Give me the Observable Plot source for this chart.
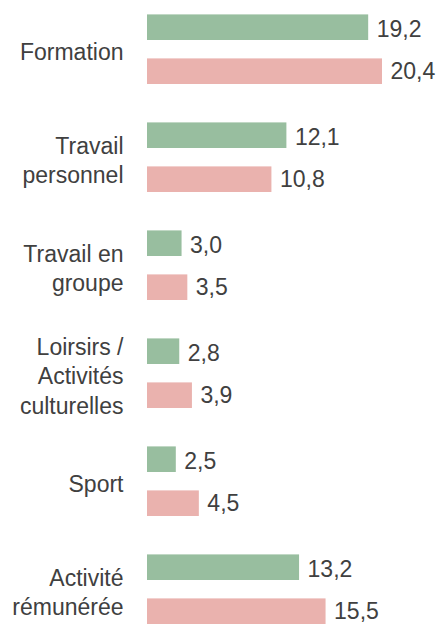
<!DOCTYPE html>
<html>
<head>
<meta charset="utf-8">
<script src="https://cdn.jsdelivr.net/npm/d3@7"></script>
<script src="https://cdn.jsdelivr.net/npm/@observablehq/plot@0.6"></script>
<style>
  html, body { margin: 0; padding: 0; background: #fff; overflow: hidden; }
  #chart svg { display: block; }
</style>
</head>
<body>
<div id="chart"></div>
<script>
const categories = [
  "Formation",
  "Travail\npersonnel",
  "Travail en\ngroupe",
  "Loirsirs /\nActivités\nculturelles",
  "Sport",
  "Activité\nrémunérée"
];
const serieVert = [19.2, 12.1, 3.0, 2.8, 2.5, 13.2];
const serieRose = [20.4, 10.8, 3.5, 3.9, 4.5, 15.5];

const green = categories.map((c, i) => ({cat: c, value: serieVert[i]}));
const pink = categories.map((c, i) => ({cat: c, value: serieRose[i]}));

const fmt = v => d3.format(".1f")(v).replace(".", ",");
const textColor = "#404040";

const chart = Plot.plot({
  width: 440,
  height: 625,
  marginLeft: 147,
  marginRight: 5,
  marginTop: 0,
  marginBottom: 0,
  style: {fontFamily: "'Liberation Sans', Arial, sans-serif", color: textColor, background: "#fff"},
  x: {domain: [0, 25], axis: null},
  y: {domain: categories, range: [-6.4, 644], padding: 0, label: null},
  marks: [
    Plot.barX(green, {x: "value", y: "cat", fill: "#98be9f", insetTop: 19.4, insetBottom: 63},
    ),
    Plot.barX(pink, {x: "value", y: "cat", fill: "#eab2ae", insetTop: 63.4, insetBottom: 19}),
    Plot.text(green, {x: "value", y: "cat", text: d => fmt(d.value), textAnchor: "start", dx: 8, dy: -22 + 2.5, fontSize: 23, fill: textColor}),
    Plot.text(pink, {x: "value", y: "cat", text: d => fmt(d.value), textAnchor: "start", dx: 8, dy: 22 + 0.5, fontSize: 23, fill: textColor}),
    Plot.axisY({tickSize: 0, tickPadding: 24, fontSize: 23, lineHeight: 1.28, dy: 1.5, label: null})
  ]
});
document.getElementById("chart").appendChild(chart);
</script>
</body>
</html>
